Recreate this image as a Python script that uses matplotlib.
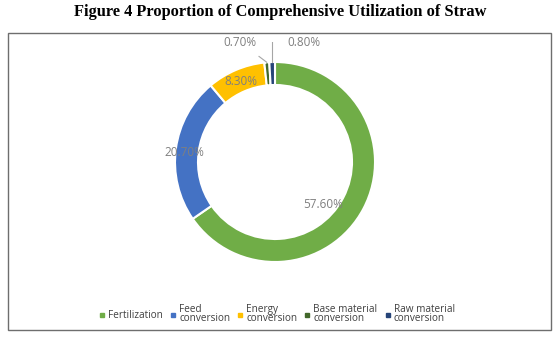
import numpy as np
import matplotlib
matplotlib.use("Agg")
import matplotlib.pyplot as plt
from matplotlib.lines import Line2D
from matplotlib.patches import Rectangle

# data
categorias = ["Fertilization", "Feed\nconversion", "Energy\nconversion",
              "Base material\nconversion", "Raw material\nconversion"]
valores = [57.6, 20.7, 8.3, 0.7, 0.8]
etiquetas = ["57.60%", "20.70%", "8.30%", "0.70%", "0.80%"]
colores = ["#70AD47", "#4472C4", "#FFC000", "#43682B", "#264478"]

gris = "#7F7F7F"

fig = plt.figure(figsize=(5.6, 3.39), dpi=100)
W, H = 560.0, 339.0

# title and frame
fig.text(280 / W, 1 - 12 / H, "Figure 4 Proportion of Comprehensive Utilization of Straw",
         ha="center", va="center", fontsize=11.8, fontweight="bold",
         family="Liberation Serif")
fig.patches.append(Rectangle((8 / W, 1 - 330 / H), 543 / W, 297 / H,
                             transform=fig.transFigure, fill=False,
                             edgecolor="#6E6E6E", linewidth=1.0))

# pie axes: centre (275,162) px, outer radius 100 px
cx, cy, r = 275, 162, 100
lado = 2.4 * r
ax = fig.add_axes([(cx - lado / 2) / W, (H - cy - lado / 2) / H, lado / W, lado / H])
wedges, _ = ax.pie(valores, colors=colores, startangle=90, counterclock=False,
                   radius=1.0, wedgeprops=dict(width=0.23, edgecolor="white", linewidth=1.5))
ax.set_xlim(-1.2, 1.2)
ax.set_ylim(-1.2, 1.2)
ax.set_aspect("equal")
ax.axis("off")

# angles of each slice
total = sum(valores)
ang_mid = []
acum = 0
for v in valores:
    ini = 90 - acum / total * 360
    fin = 90 - (acum + v) / total * 360
    ang_mid.append(np.deg2rad((ini + fin) / 2))
    acum += v

fuente = dict(fontsize=8.5, color=gris, family="Open Sans", ha="center", va="center")

# big slices: labels on the ring
a = ang_mid[1]
ax.text(0.91 * np.cos(a), 0.91 * np.sin(a) - 0.03, etiquetas[1], **fuente)
a = ang_mid[2]
ax.text(0.88 * np.cos(a), 0.88 * np.sin(a), etiquetas[2], **fuente)
ax.text(0.48, -0.43, etiquetas[0], **fuente)

# small slices: labels with leader lines
a3 = ang_mid[3]
ax.annotate(etiquetas[3], xy=(np.cos(a3) * 1.0, np.sin(a3) * 1.0), xytext=(-0.35, 1.2),
            arrowprops=dict(arrowstyle="-", color="#A6A6A6", lw=0.8,
                            shrinkA=6, shrinkB=0), **fuente)
a4 = ang_mid[4]
ax.plot([0.04, np.cos(a4) * 1.0, np.cos(a4) * 1.0], [1.22, 1.22, np.sin(a4) * 1.0],
        color="#A6A6A6", lw=0.8)
ax.text(0.29, 1.2, etiquetas[4], **fuente)

# legend
manijas = [Line2D([], [], marker="s", linestyle="none", markersize=3.5,
                  markerfacecolor=c, markeredgecolor=c) for c in colores]
fig.legend(manijas, categorias, loc="center", bbox_to_anchor=(277 / W, 1 - 314 / H),
           ncol=5, frameon=False, handlelength=0.6, handletextpad=0.3,
           columnspacing=0.7, prop=dict(family="Open Sans", size=7.2),
           labelspacing=0.1)
for t in fig.legends[0].get_texts():
    t.set_color("#404040")
    t.set_linespacing(0.85)

fig.savefig("out.png", dpi=100)
